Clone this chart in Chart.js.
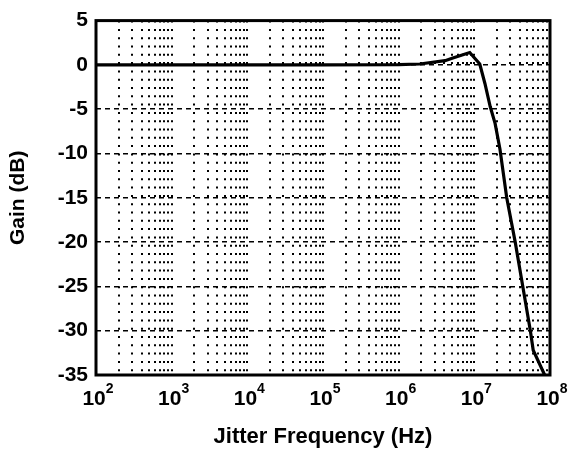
<!DOCTYPE html>
<html>
<head>
<meta charset="utf-8">
<script src="https://cdn.jsdelivr.net/npm/chart.js@4/dist/chart.umd.min.js"></script>
<style>
  html, body { margin: 0; padding: 0; background: #fff; }
  canvas { display: block; }
</style>
</head>
<body>
<canvas id="gainChart" width="579" height="450"></canvas>
<script>
// jitter transfer
var freqHz = [1e2, 1e3, 1e4, 1e5, 1e6, 1.9e6, 4.1e6, 5.2e6, 8.7e6, 1.18e7, 1.38e7, 1.62e7, 1.88e7, 2.18e7, 2.68e7, 3.47e7, 4.37e7, 5.5e7, 6.0e7, 8.5e7];
var gainDb = [0, 0, 0, 0, 0.02, 0.1, 0.48, 0.78, 1.4, 0.1, -2.1, -4.7, -6.6, -9.5, -15, -20, -25, -30, -32.2, -35];

var xDecades = [2, 3, 4, 5, 6, 7, 8];
var yTicks = [5, 0, -5, -10, -15, -20, -25, -30, -35];

var FONT = "'Liberation Sans', Arial, Helvetica, sans-serif";

var points = [];
for (var i = 0; i < freqHz.length; i++)
{
    points.push({x: freqHz[i], y: gainDb[i]});
}

// log grid: 1..9 x 10^k plus the last decade
function logTicks()
{
    var ticks = [];
    for (var d = xDecades[0]; d < xDecades[xDecades.length - 1]; d++)
    {
        for (var m = 1; m <= 9; m++)
        {
            ticks.push({value: m * Math.pow(10, d)});
        }
    }
    ticks.push({value: Math.pow(10, xDecades[xDecades.length - 1])});
    return ticks;
}

var framePlugin = {
    id: 'frame',
    afterDraw: function (chart) {
        var ctx = chart.ctx;
        var a = chart.chartArea;
        ctx.save();
        ctx.strokeStyle = '#000';
        ctx.lineWidth = 3;
        ctx.strokeRect(a.left, a.top, a.right - a.left, a.bottom - a.top);

        // decade labels with raised exponent
        var xs = chart.scales.x;
        ctx.fillStyle = '#000';
        ctx.textBaseline = 'alphabetic';
        ctx.textAlign = 'left';
        for (var i = 0; i < xDecades.length; i++)
        {
            var px = xs.getPixelForValue(Math.pow(10, xDecades[i]));
            ctx.font = 'bold 21px ' + FONT;
            var wBase = ctx.measureText('10').width;
            ctx.font = 'bold 14px ' + FONT;
            var wExp = ctx.measureText(String(xDecades[i])).width;
            var x0 = px - (wBase + wExp) / 2 + 2;
            ctx.font = 'bold 21px ' + FONT;
            ctx.fillText('10', x0, a.bottom + 30);
            ctx.font = 'bold 14px ' + FONT;
            ctx.fillText(String(xDecades[i]), x0 + wBase, a.bottom + 18);
        }
        ctx.restore();
    }
};

var chart = new Chart(document.getElementById('gainChart'), {
    type: 'line',
    data: {
        datasets: [{
            data: points,
            borderColor: '#000',
            borderWidth: 3.2,
            pointRadius: 0,
            tension: 0,
            fill: false
        }]
    },
    options: {
        responsive: false,
        animation: false,
        layout: {
            padding: {top: 16, right: 29, left: 0, bottom: 0}
        },
        plugins: {
            legend: {display: false},
            tooltip: {enabled: false}
        },
        scales: {
            x: {
                type: 'logarithmic',
                min: 1e2,
                max: 1e8,
                afterBuildTicks: function (scale) {
                    scale.ticks = logTicks();
                },
                afterFit: function (scale) {
                    scale.height = 75;
                },
                ticks: {
                    display: false,
                    autoSkip: false
                },
                grid: {
                    color: '#000',
                    lineWidth: 2,
                    drawTicks: false
                },
                border: {
                    display: false,
                    dash: [2, 6.3]
                },
                title: {
                    display: true,
                    text: 'Jitter Frequency (Hz)',
                    color: '#000',
                    font: {family: FONT, size: 22, weight: 'bold'},
                    padding: {top: 1, bottom: 0}
                }
            },
            y: {
                min: -35,
                max: 5,
                afterBuildTicks: function (scale) {
                    scale.ticks = yTicks.map(function (v) { return {value: v}; });
                },
                afterFit: function (scale) {
                    scale.width = 96;
                },
                ticks: {
                    color: '#000',
                    padding: 8,
                    font: {family: FONT, size: 21, weight: 'bold'}
                },
                grid: {
                    color: '#000',
                    lineWidth: 1.4,
                    drawTicks: false
                },
                border: {
                    display: false,
                    dash: [5, 4]
                },
                title: {
                    display: true,
                    text: 'Gain (dB)',
                    color: '#000',
                    font: {family: FONT, size: 21, weight: 'bold'},
                    padding: {top: 6, bottom: 0}
                }
            }
        }
    },
    plugins: [framePlugin]
});
</script>
</body>
</html>
